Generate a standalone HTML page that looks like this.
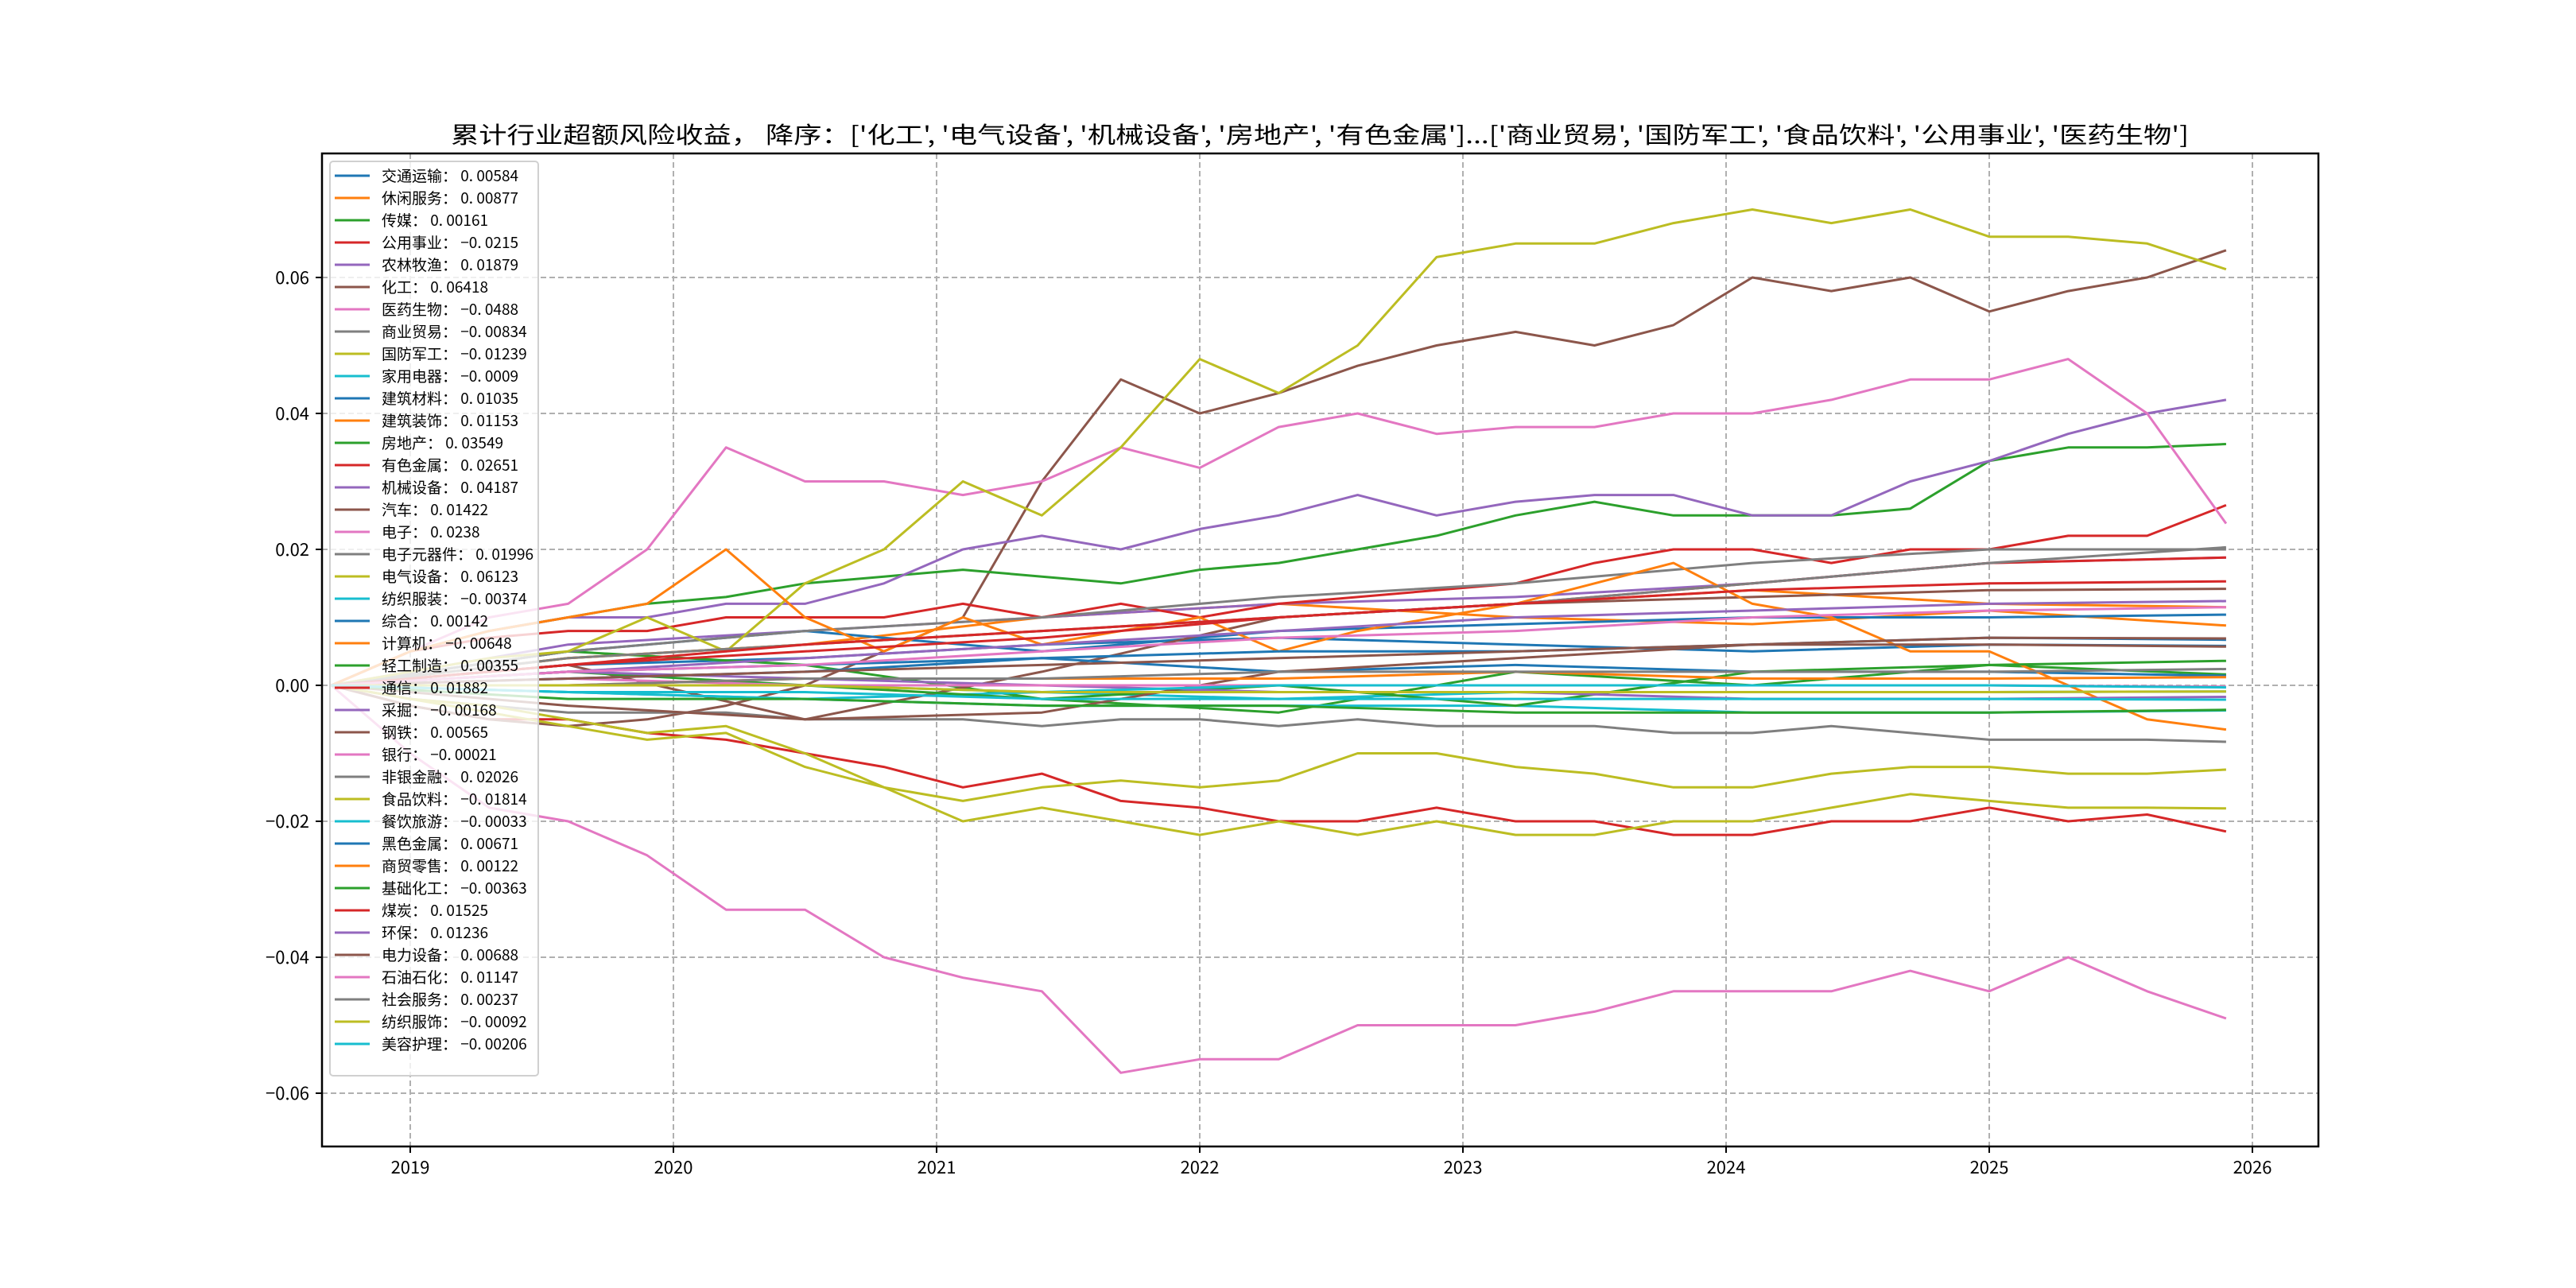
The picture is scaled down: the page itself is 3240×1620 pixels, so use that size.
<!DOCTYPE html>
<html><head><meta charset="utf-8"><style>
html,body{margin:0;padding:0;background:#fff;}
svg{display:block;font-family:"WenQuanYi Zen Hei","Noto Sans CJK SC",sans-serif;}
</style></head><body>
<svg id="chart" width="3240" height="1620" viewBox="0 0 3240 1620"></svg>
<script>
const tMajor=[2018.7,2019.0,2019.3,2019.6,2019.9,2020.2,2020.5,2020.8,2021.1,2021.4,2021.7,2022.0,2022.3,2022.6,2022.9,2023.2,2023.5,2023.8,2024.1,2024.4,2024.7,2025.0,2025.3,2025.6,2025.9];
const tMinor=[2018.7,2019.6,2020.5,2021.4,2022.3,2023.2,2024.1,2025.0,2025.9];
const seriesNames=["交通运输","休闲服务","传媒","公用事业","农林牧渔","化工","医药生物","商业贸易","国防军工","家用电器","建筑材料","建筑装饰","房地产","有色金属","机械设备","汽车","电子","电子元器件","电气设备","纺织服装","综合","计算机","轻工制造","通信","采掘","钢铁","银行","非银金融","食品饮料","餐饮旅游","黑色金属","商贸零售","基础化工","煤炭","环保","电力设备","石油石化","社会服务","纺织服饰","美容护理"];
const finalLabels=["0.00584","0.00877","0.00161","-0.0215","0.01879","0.06418","-0.0488","-0.00834","-0.01239","-0.0009","0.01035","0.01153","0.03549","0.02651","0.04187","0.01422","0.0238","0.01996","0.06123","-0.00374","0.00142","-0.00648","0.00355","0.01882","-0.00168","0.00565","-0.00021","0.02026","-0.01814","-0.00033","0.00671","0.00122","-0.00363","0.01525","0.01236","0.00688","0.01147","0.00237","-0.00092","-0.00206"];
const s交通运输=[0,0.003,0.004,0.006,0.007,0.006,0.005,0.006,0.0058];
const s休闲服务=[0,0.004,0.006,0.01,0.012,0.01,0.009,0.011,0.0088];
const s传媒=[0,0.005,0.003,-0.002,-0.004,0.002,0.0,0.003,0.0016];
const s公用事业=[0,-0.003,-0.005,-0.005,-0.007,-0.008,-0.01,-0.012,-0.015,-0.013,-0.017,-0.018,-0.02,-0.02,-0.018,-0.02,-0.02,-0.022,-0.022,-0.02,-0.02,-0.018,-0.02,-0.019,-0.0215];
const s农林牧渔=[0,0.006,0.008,0.01,0.012,0.013,0.015,0.018,0.0188];
const s化工=[0,-0.003,-0.005,-0.006,-0.005,-0.003,0,0.005,0.01,0.03,0.045,0.04,0.043,0.047,0.05,0.052,0.05,0.053,0.06,0.058,0.06,0.055,0.058,0.06,0.064];
const s医药生物=[0,-0.01,-0.018,-0.02,-0.025,-0.033,-0.033,-0.04,-0.043,-0.045,-0.057,-0.055,-0.055,-0.05,-0.05,-0.05,-0.048,-0.045,-0.045,-0.045,-0.042,-0.045,-0.04,-0.045,-0.049];
const s商业贸易=[0,-0.002,-0.003,-0.004,-0.004,-0.004,-0.005,-0.005,-0.005,-0.006,-0.005,-0.005,-0.006,-0.005,-0.006,-0.006,-0.006,-0.007,-0.007,-0.006,-0.007,-0.008,-0.008,-0.008,-0.0083];
const s国防军工=[0,-0.002,-0.004,-0.006,-0.008,-0.007,-0.012,-0.015,-0.017,-0.015,-0.014,-0.015,-0.014,-0.01,-0.01,-0.012,-0.013,-0.015,-0.015,-0.013,-0.012,-0.012,-0.013,-0.013,-0.0124];
const s家用电器=[0,-0.001,-0.002,-0.001,-0.002,-0.001,-0.001,-0.001,-0.0009];
const s建筑材料=[0,0.005,0.008,0.005,0.008,0.009,0.01,0.01,0.0104];
const s建筑装饰=[0,0.004,0.006,0.008,0.01,0.012,0.014,0.012,0.0115];
const s房地产=[0,0.005,0.008,0.01,0.012,0.013,0.015,0.016,0.017,0.016,0.015,0.017,0.018,0.02,0.022,0.025,0.027,0.025,0.025,0.025,0.026,0.033,0.035,0.035,0.0355];
const s有色金属=[0,0.005,0.007,0.008,0.008,0.01,0.01,0.01,0.012,0.01,0.012,0.01,0.012,0.013,0.014,0.015,0.018,0.02,0.02,0.018,0.02,0.02,0.022,0.022,0.0265];
const s机械设备=[0,0.005,0.008,0.01,0.01,0.012,0.012,0.015,0.02,0.022,0.02,0.023,0.025,0.028,0.025,0.027,0.028,0.028,0.025,0.025,0.03,0.033,0.037,0.04,0.042];
const s汽车=[0,0.003,-0.005,0.002,0.01,0.012,0.013,0.014,0.0142];
const s电子=[0,0.005,0.01,0.012,0.02,0.035,0.03,0.03,0.028,0.03,0.035,0.032,0.038,0.04,0.037,0.038,0.038,0.04,0.04,0.042,0.045,0.045,0.048,0.04,0.0238];
const s电子元器件=[0,0.005,0.008,0.01,0.013,0.015,0.018,0.02,0.02];
const s电气设备=[0,0.002,0.004,0.005,0.01,0.005,0.015,0.02,0.03,0.025,0.035,0.048,0.043,0.05,0.063,0.065,0.065,0.068,0.07,0.068,0.07,0.066,0.066,0.065,0.0612];
const s纺织服装=[0,-0.001,-0.002,-0.003,-0.003,-0.003,-0.004,-0.004,-0.0037];
const s综合=[0,0.002,0.003,0.004,0.002,0.003,0.002,0.002,0.0014];
const s计算机=[0,0.005,0.008,0.01,0.012,0.02,0.01,0.005,0.01,0.006,0.008,0.01,0.005,0.008,0.01,0.012,0.015,0.018,0.012,0.01,0.005,0.005,0.0,-0.005,-0.0065];
const s轻工制造=[0,0.002,0.0,-0.002,0.0,-0.003,0.002,0.003,0.0036];
const s通信=[0,0.003,0.005,0.007,0.01,0.012,0.015,0.018,0.0188];
const s采掘=[0,0.002,0.001,0.0,-0.001,-0.001,-0.002,-0.002,-0.0017];
const s钢铁=[0,-0.003,-0.005,-0.004,0.002,0.004,0.006,0.006,0.0057];
const s银行=[0,0.001,0.0,0.0,0.0,0.0,0.0,0.0,-0.0002];
const s非银金融=[0,0.004,0.006,0.008,0.01,0.012,0.015,0.018,0.0203];
const s食品饮料=[0,-0.002,-0.003,-0.005,-0.007,-0.006,-0.01,-0.015,-0.02,-0.018,-0.02,-0.022,-0.02,-0.022,-0.02,-0.022,-0.022,-0.02,-0.02,-0.018,-0.016,-0.017,-0.018,-0.018,-0.0181];
const s餐饮旅游=[0,0.0,0.0,-0.001,0.0,0.0,0.0,0.0,-0.0003];
const s黑色金属=[0,0.001,0.002,0.004,0.005,0.005,0.006,0.007,0.0067];
const s商贸零售=[0,0.0,0.001,0.001,0.001,0.002,0.001,0.001,0.0012];
const s基础化工=[0,-0.002,-0.002,-0.003,-0.003,-0.004,-0.004,-0.004,-0.0036];
const s煤炭=[0,0.003,0.006,0.008,0.01,0.012,0.014,0.015,0.0153];
const s环保=[0,0.002,0.004,0.006,0.008,0.01,0.011,0.012,0.0124];
const s电力设备=[0,0.001,0.002,0.003,0.004,0.005,0.006,0.007,0.0069];
const s石油石化=[0,0.002,0.003,0.005,0.007,0.008,0.01,0.011,0.0115];
const s社会服务=[0,0.0,0.001,0.001,0.002,0.002,0.002,0.002,0.0024];
const s纺织服饰=[0,0.0,0.0,-0.001,-0.001,-0.001,-0.001,-0.001,-0.0009];
const s美容护理=[0,-0.001,-0.001,-0.002,-0.002,-0.002,-0.002,-0.002,-0.0021];
const yTicks=[-0.06,-0.04,-0.02,0.00,0.02,0.04,0.06];
const yTickLabels=["−0.06","−0.04","−0.02","0.00","0.02","0.04","0.06"];
const xTicks=[2019,2020,2021,2022,2023,2024,2025,2026];
const xTickLabels=["2019","2020","2021","2022","2023","2024","2025","2026"];

const allSeries=[s交通运输,s休闲服务,s传媒,s公用事业,s农林牧渔,s化工,s医药生物,s商业贸易,s国防军工,s家用电器,s建筑材料,s建筑装饰,s房地产,s有色金属,s机械设备,s汽车,s电子,s电子元器件,s电气设备,s纺织服装,s综合,s计算机,s轻工制造,s通信,s采掘,s钢铁,s银行,s非银金融,s食品饮料,s餐饮旅游,s黑色金属,s商贸零售,s基础化工,s煤炭,s环保,s电力设备,s石油石化,s社会服务,s纺织服饰,s美容护理];
const colors=["#1f77b4","#ff7f0e","#2ca02c","#d62728","#9467bd","#8c564b","#e377c2","#7f7f7f","#bcbd22","#17becf"];
const L=405,R=2916,T=193,B=1442;
function xS(t){return 516+(t-2019)*331.0;}
function yS(v){return 862-v*(513/0.06);}
const NS="http://www.w3.org/2000/svg";
const svg=document.getElementById('chart');
function mk(tag,attrs,parent){const e=document.createElementNS(NS,tag);for(const k in attrs)e.setAttribute(k,attrs[k]);(parent||svg).appendChild(e);return e;}

const grid=mk('g',{});


xTicks.forEach(t=>{mk('line',{x1:xS(t),x2:xS(t),y1:T,y2:B,stroke:'#b0b0b0','stroke-width':2,'stroke-dasharray':'7,4'},grid);});
yTicks.forEach(v=>{mk('line',{x1:L,x2:R,y1:yS(v),y2:yS(v),stroke:'#b0b0b0','stroke-width':2,'stroke-dasharray':'7,4'},grid);});

const lines=mk('g',{});


allSeries.forEach((s,i)=>{
  const ts=s.length===tMajor.length?tMajor:tMinor;
  const pts=s.map((v,j)=>xS(ts[j]).toFixed(1)+','+yS(v).toFixed(1)).join(' ');
  const pl=mk('polyline',{points:pts,fill:'none',stroke:colors[i%10],'stroke-width':3,'stroke-linejoin':'round'},lines);
  
  
});

const frame=mk('rect',{x:L,y:T,width:R-L,height:B-T,fill:'none',stroke:'#000','stroke-width':2.5});



const yax=mk('g',{});


yTicks.forEach((v,i)=>{
  mk('line',{x1:L-8,x2:L,y1:yS(v),y2:yS(v),stroke:'#000','stroke-width':2},yax);
  const tx=mk('text',{x:L-16,y:yS(v)+8,'text-anchor':'end','font-size':22,fill:'#000'},yax);
  tx.textContent=yTickLabels[i];
  
  
});
const xax=mk('g',{});


xTicks.forEach((t,i)=>{
  mk('line',{x1:xS(t),x2:xS(t),y1:B,y2:B+8,stroke:'#000','stroke-width':2},xax);
  const tx=mk('text',{x:xS(t),y:B+34,'text-anchor':'middle','font-size':22,fill:'#000'},xax);
  tx.textContent=xTickLabels[i];
  
  
});

const title=mk('text',{x:1660,y:180,'text-anchor':'middle','font-size':29,fill:'#000',textLength:2186,lengthAdjust:'spacingAndGlyphs'});
title.textContent="累计行业超额风险收益， 降序：['化工', '电气设备', '机械设备', '房地产', '有色金属']...['商业贸易', '国防军工', '食品饮料', '公用事业', '医药生物']";



const leg=mk('g',{});


mk('rect',{x:415,y:203,width:262,height:1150,rx:4,fill:'#fff','fill-opacity':0.8,stroke:'#d0d0d0','stroke-width':2},leg);
seriesNames.forEach((n,i)=>{
  const y=221+i*28.0;
  const ent=mk('g',{},leg);
  
  
  mk('line',{x1:421,x2:465,y1:y,y2:y,stroke:colors[i%10],'stroke-width':3},ent);
  const tx=mk('text',{x:480,y:y+7,'font-size':19,fill:'#000'},ent);
  tx.textContent=n+'： '+finalLabels[i].replace('-','−').replace('.','. ');
});
</script>
</body></html>
